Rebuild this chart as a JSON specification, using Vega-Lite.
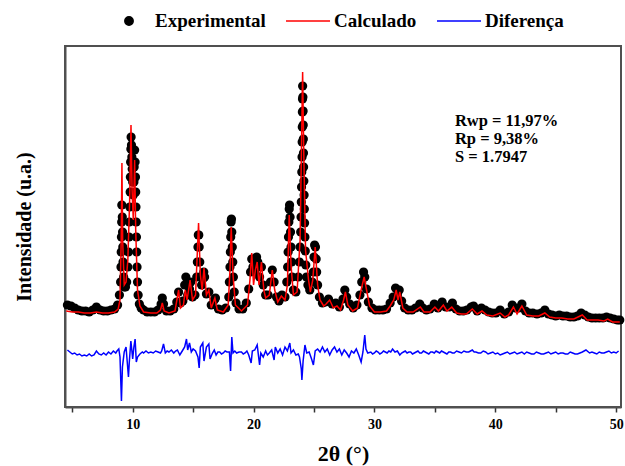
{
"$schema": "https://vega.github.io/schema/vega-lite/v6.json",
"width": 556, "height": 361,
"autosize": {"type": "none"},
"padding": {"left": 65, "top": 46, "right": 4, "bottom": 59},
"background": "white",
"config": {
  "view": {"stroke": "#505050", "strokeWidth": 2},
  "font": "Liberation Serif",
  "axis": {"labelFont": "Liberation Serif", "titleFont": "Liberation Serif", "labelFontWeight": "bold", "titleFontWeight": "bold", "labelColor": "black", "titleColor": "black", "grid": false, "domainColor": "#505050", "domainWidth": 2, "tickColor": "#333333", "tickWidth": 1.5}
},
"datasets": {
"obs": [
{"t":4.6,"v":102},{"t":4.9,"v":101},{"t":5.2,"v":99},{"t":5.5,"v":97},{"t":5.8,"v":96},{"t":6.1,"v":96},{"t":6.4,"v":95},{"t":6.7,"v":97},{"t":7.0,"v":100},{"t":7.3,"v":97},{"t":7.6,"v":96},{"t":7.9,"v":96},{"t":8.2,"v":97},{"t":8.5,"v":98},{"t":8.75,"v":102},{"t":8.9,"v":112},
{"t":9.0,"v":125},{"t":9.03,"v":140},{"t":9.05,"v":155},{"t":9.07,"v":170},{"t":9.09,"v":185},{"t":9.1,"v":202},{"t":9.14,"v":190},{"t":9.16,"v":175},{"t":9.18,"v":160},{"t":9.2,"v":145},{"t":9.25,"v":130},{"t":9.3,"v":120},{"t":9.4,"v":120},{"t":9.5,"v":125},
{"t":9.6,"v":140},{"t":9.65,"v":155},{"t":9.7,"v":170},{"t":9.73,"v":185},{"t":9.76,"v":200},{"t":9.79,"v":215},{"t":9.81,"v":230},{"t":9.83,"v":245},{"t":9.85,"v":258},{"t":9.87,"v":270},{"t":9.9,"v":262},{"t":9.93,"v":250},{"t":9.96,"v":238},{"t":10.0,"v":225},{"t":10.05,"v":212},{"t":10.1,"v":225},{"t":10.12,"v":240},{"t":10.16,"v":257},{"t":10.2,"v":245},{"t":10.23,"v":230},{"t":10.25,"v":215},{"t":10.27,"v":200},{"t":10.29,"v":185},{"t":10.31,"v":170},{"t":10.33,"v":155},{"t":10.36,"v":140},{"t":10.4,"v":125},{"t":10.45,"v":112},{"t":10.55,"v":103},{"t":10.7,"v":99},
{"t":10.9,"v":97},{"t":11.2,"v":95},{"t":11.5,"v":95},{"t":11.8,"v":95},{"t":12.1,"v":97},{"t":12.35,"v":103},{"t":12.45,"v":109},{"t":12.55,"v":103},{"t":12.8,"v":96},{"t":13.1,"v":96},{"t":13.4,"v":98},{"t":13.65,"v":105},{"t":13.8,"v":115},{"t":13.95,"v":104},{"t":14.15,"v":106},{"t":14.3,"v":122},{"t":14.4,"v":130},{"t":14.55,"v":112},{"t":14.7,"v":118},{"t":14.8,"v":125},{"t":14.95,"v":110},{"t":15.15,"v":112},{"t":15.3,"v":130},{"t":15.35,"v":145},{"t":15.4,"v":160},{"t":15.43,"v":172},{"t":15.47,"v":172},{"t":15.5,"v":160},{"t":15.55,"v":145},{"t":15.6,"v":130},{"t":15.7,"v":122},{"t":15.8,"v":128},{"t":15.88,"v":135},{"t":15.95,"v":130},{"t":16.1,"v":113},{"t":16.3,"v":115},{"t":16.5,"v":102},{"t":16.75,"v":107},{"t":16.85,"v":109},{"t":17.1,"v":98},{"t":17.4,"v":97},{"t":17.7,"v":99},
{"t":17.95,"v":110},{"t":18.0,"v":125},{"t":18.05,"v":140},{"t":18.08,"v":155},{"t":18.11,"v":170},{"t":18.14,"v":185},{"t":18.17,"v":188},{"t":18.2,"v":175},{"t":18.24,"v":160},{"t":18.28,"v":145},{"t":18.33,"v":130},{"t":18.4,"v":115},{"t":18.55,"v":104},{"t":18.8,"v":98},{"t":19.1,"v":98},{"t":19.4,"v":104},{"t":19.6,"v":118},{"t":19.75,"v":135},{"t":19.85,"v":148},{"t":19.95,"v":140},{"t":20.1,"v":135},{"t":20.25,"v":150},{"t":20.35,"v":145},{"t":20.5,"v":130},{"t":20.65,"v":140},{"t":20.8,"v":122},{"t":21.0,"v":112},{"t":21.2,"v":112},{"t":21.4,"v":125},{"t":21.55,"v":137},{"t":21.7,"v":125},{"t":21.9,"v":110},{"t":22.1,"v":106},{"t":22.35,"v":112},{"t":22.6,"v":110},
{"t":22.75,"v":125},{"t":22.82,"v":140},{"t":22.86,"v":155},{"t":22.89,"v":170},{"t":22.92,"v":185},{"t":22.95,"v":198},{"t":22.98,"v":202},{"t":23.02,"v":190},{"t":23.06,"v":175},{"t":23.1,"v":160},{"t":23.15,"v":145},{"t":23.2,"v":130},{"t":23.3,"v":117},{"t":23.5,"v":115},{"t":23.7,"v":130},{"t":23.8,"v":145},{"t":23.85,"v":160},{"t":23.9,"v":175},{"t":23.93,"v":190},{"t":23.95,"v":205},{"t":23.97,"v":220},{"t":23.99,"v":235},{"t":24.01,"v":250},{"t":24.02,"v":265},{"t":24.03,"v":280},{"t":24.04,"v":295},{"t":24.05,"v":308},{"t":24.06,"v":321},{"t":24.08,"v":310},{"t":24.1,"v":296},{"t":24.11,"v":282},{"t":24.12,"v":268},{"t":24.13,"v":254},{"t":24.14,"v":240},{"t":24.16,"v":226},{"t":24.18,"v":212},{"t":24.2,"v":198},{"t":24.22,"v":184},{"t":24.25,"v":170},{"t":24.28,"v":156},{"t":24.32,"v":142},{"t":24.38,"v":130},{"t":24.5,"v":122},{"t":24.65,"v":117},{"t":24.85,"v":125},{"t":24.95,"v":135},{"t":25.0,"v":150},{"t":25.05,"v":162},{"t":25.12,"v":160},{"t":25.18,"v":148},{"t":25.22,"v":135},{"t":25.3,"v":122},{"t":25.45,"v":110},{"t":25.7,"v":104},{"t":25.95,"v":105},{"t":26.2,"v":108},{"t":26.5,"v":103},{"t":26.8,"v":104},{"t":27.1,"v":100},{"t":27.4,"v":108},{"t":27.55,"v":117},{"t":27.7,"v":110},{"t":27.95,"v":103},{"t":28.25,"v":99},{"t":28.55,"v":102},{"t":28.8,"v":112},{"t":28.95,"v":125},{"t":29.1,"v":135},{"t":29.2,"v":130},{"t":29.35,"v":118},{"t":29.5,"v":105},{"t":29.8,"v":99},
{"t":30.1,"v":97},{"t":30.4,"v":97},{"t":30.7,"v":97},{"t":31.0,"v":98},{"t":31.3,"v":104},{"t":31.55,"v":110},{"t":31.75,"v":119},{"t":31.9,"v":112},{"t":32.05,"v":117},{"t":32.25,"v":106},{"t":32.5,"v":99},{"t":32.8,"v":97},{"t":33.1,"v":97},{"t":33.4,"v":99},{"t":33.75,"v":103},{"t":34.0,"v":99},{"t":34.3,"v":97},{"t":34.6,"v":98},{"t":34.95,"v":103},{"t":35.25,"v":99},{"t":35.6,"v":105},{"t":35.9,"v":100},{"t":36.2,"v":100},{"t":36.45,"v":104},{"t":36.75,"v":98},{"t":37.05,"v":96},{"t":37.35,"v":96},{"t":37.65,"v":97},{"t":38.0,"v":100},{"t":38.2,"v":101},{"t":38.5,"v":96},{"t":38.85,"v":99},{"t":39.15,"v":97},{"t":39.45,"v":95},{"t":39.75,"v":94},{"t":40.05,"v":94},{"t":40.4,"v":97},{"t":40.75,"v":93},{"t":41.1,"v":95},{"t":41.4,"v":102},{"t":41.65,"v":99},{"t":41.95,"v":99},{"t":42.2,"v":103},{"t":42.5,"v":96},{"t":42.8,"v":94},{"t":43.1,"v":94},{"t":43.45,"v":93},{"t":43.8,"v":94},{"t":44.1,"v":97},{"t":44.4,"v":93},{"t":44.7,"v":92},{"t":45.0,"v":91},{"t":45.3,"v":92},{"t":45.6,"v":91},{"t":45.9,"v":91},{"t":46.2,"v":90},{"t":46.5,"v":90},{"t":46.8,"v":91},{"t":47.1,"v":94},{"t":47.4,"v":92},{"t":47.7,"v":90},{"t":48.0,"v":89},{"t":48.3,"v":89},{"t":48.6,"v":89},{"t":48.9,"v":89},{"t":49.2,"v":90},{"t":49.5,"v":89},{"t":49.8,"v":88},{"t":50.1,"v":87},{"t":50.3,"v":87}
],
"calc": [
{"t":4.5,"v":96},{"t":5.0,"v":95},{"t":5.5,"v":95},{"t":6.0,"v":94},{"t":6.5,"v":94},{"t":7.0,"v":95},{"t":7.5,"v":94},{"t":8.0,"v":94},{"t":8.5,"v":95},{"t":8.8,"v":98},{"t":8.95,"v":107},{"t":9.05,"v":167},{"t":9.11,"v":244},{"t":9.17,"v":167},{"t":9.3,"v":122},{"t":9.45,"v":125},{"t":9.6,"v":147},{"t":9.75,"v":207},{"t":9.86,"v":282},{"t":9.95,"v":217},{"t":10.05,"v":187},{"t":10.16,"v":247},{"t":10.25,"v":177},{"t":10.4,"v":117},{"t":10.6,"v":101},{"t":10.9,"v":95},{"t":11.5,"v":94},{"t":12.0,"v":94},{"t":12.3,"v":97},{"t":12.45,"v":104},{"t":12.6,"v":96},{"t":13.0,"v":94},{"t":13.5,"v":96},{"t":13.8,"v":117},{"t":13.95,"v":99},{"t":14.2,"v":102},{"t":14.35,"v":117},{"t":14.5,"v":107},{"t":14.75,"v":127},{"t":14.95,"v":107},{"t":15.2,"v":112},{"t":15.45,"v":184},{"t":15.6,"v":132},{"t":15.75,"v":117},{"t":15.9,"v":139},{"t":16.1,"v":112},{"t":16.3,"v":117},{"t":16.5,"v":99},{"t":16.8,"v":109},{"t":17.0,"v":97},{"t":17.5,"v":95},{"t":17.9,"v":102},{"t":18.05,"v":137},{"t":18.15,"v":180},{"t":18.3,"v":132},{"t":18.5,"v":102},{"t":19.0,"v":96},{"t":19.5,"v":102},{"t":19.7,"v":127},{"t":19.85,"v":154},{"t":20.0,"v":122},{"t":20.15,"v":137},{"t":20.3,"v":145},{"t":20.45,"v":122},{"t":20.65,"v":145},{"t":20.85,"v":117},{"t":21.0,"v":109},{"t":21.3,"v":112},{"t":21.55,"v":137},{"t":21.75,"v":117},{"t":22.0,"v":105},{"t":22.3,"v":111},{"t":22.6,"v":107},{"t":22.8,"v":122},{"t":22.95,"v":192},{"t":23.1,"v":142},{"t":23.3,"v":112},{"t":23.6,"v":115},{"t":23.85,"v":167},{"t":24.0,"v":287},{"t":24.06,"v":335},{"t":24.15,"v":257},{"t":24.3,"v":157},{"t":24.55,"v":127},{"t":24.7,"v":115},{"t":24.9,"v":127},{"t":25.1,"v":160},{"t":25.3,"v":122},{"t":25.5,"v":107},{"t":25.8,"v":101},{"t":26.0,"v":103},{"t":26.3,"v":107},{"t":26.6,"v":99},{"t":26.9,"v":101},{"t":27.2,"v":97},{"t":27.45,"v":107},{"t":27.6,"v":115},{"t":27.8,"v":102},{"t":28.2,"v":96},{"t":28.6,"v":99},{"t":28.9,"v":117},{"t":29.15,"v":130},{"t":29.35,"v":117},{"t":29.6,"v":101},{"t":30.0,"v":95},{"t":30.5,"v":95},{"t":31.0,"v":96},{"t":31.3,"v":101},{"t":31.6,"v":107},{"t":31.8,"v":117},{"t":31.95,"v":107},{"t":32.1,"v":115},{"t":32.35,"v":99},{"t":32.7,"v":95},{"t":33.2,"v":95},{"t":33.8,"v":100},{"t":34.1,"v":95},{"t":34.6,"v":95},{"t":35.0,"v":100},{"t":35.3,"v":96},{"t":35.7,"v":102},{"t":36.0,"v":96},{"t":36.4,"v":100},{"t":36.8,"v":94},{"t":37.2,"v":93},{"t":37.6,"v":93},{"t":38.1,"v":98},{"t":38.5,"v":93},{"t":38.9,"v":96},{"t":39.3,"v":92},{"t":39.8,"v":91},{"t":40.4,"v":94},{"t":40.8,"v":90},{"t":41.1,"v":92},{"t":41.5,"v":100},{"t":41.8,"v":93},{"t":42.2,"v":101},{"t":42.6,"v":92},{"t":43.1,"v":91},{"t":43.6,"v":91},{"t":44.1,"v":94},{"t":44.5,"v":90},{"t":45.0,"v":89},{"t":45.5,"v":89},{"t":46.0,"v":88},{"t":46.5,"v":88},{"t":47.2,"v":92},{"t":47.6,"v":87},{"t":48.0,"v":87},{"t":48.5,"v":87},{"t":49.0,"v":86},{"t":49.3,"v":88},{"t":49.7,"v":85},{"t":50.3,"v":85}
],
"diff": [
{"t":4.6,"v":57},{"t":4.8,"v":55},{"t":5.0,"v":53},{"t":5.2,"v":54},{"t":5.4,"v":52},{"t":5.6,"v":53},{"t":5.8,"v":51},{"t":6.0,"v":52},{"t":6.2,"v":51},{"t":6.4,"v":53},{"t":6.6,"v":51},{"t":6.8,"v":52},{"t":7.0,"v":56},{"t":7.2,"v":53},{"t":7.4,"v":52},{"t":7.6,"v":54},{"t":7.8,"v":52},{"t":8.0,"v":55},{"t":8.2,"v":53},{"t":8.4,"v":56},{"t":8.6,"v":54},{"t":8.7,"v":56},{"t":8.85,"v":58},{"t":8.95,"v":50},{"t":9.07,"v":6},{"t":9.15,"v":40},{"t":9.3,"v":55},{"t":9.45,"v":60},{"t":9.55,"v":45},{"t":9.65,"v":30},{"t":9.72,"v":45},{"t":9.85,"v":66},{"t":9.92,"v":58},{"t":10.0,"v":48},{"t":10.1,"v":60},{"t":10.2,"v":68},{"t":10.3,"v":45},{"t":10.4,"v":50},{"t":10.6,"v":53},{"t":10.8,"v":55},{"t":10.9,"v":54},{"t":11.1,"v":56},{"t":11.3,"v":54},{"t":11.5,"v":55},{"t":11.7,"v":54},{"t":11.9,"v":56},{"t":12.1,"v":55},{"t":12.3,"v":54},{"t":12.4,"v":56},{"t":12.55,"v":63},{"t":12.7,"v":54},{"t":12.85,"v":56},{"t":13.0,"v":55},{"t":13.2,"v":57},{"t":13.4,"v":54},{"t":13.55,"v":56},{"t":13.7,"v":57},{"t":13.9,"v":52},{"t":14.1,"v":56},{"t":14.3,"v":60},{"t":14.45,"v":68},{"t":14.55,"v":57},{"t":14.7,"v":64},{"t":14.85,"v":55},{"t":15.0,"v":58},{"t":15.2,"v":56},{"t":15.4,"v":50},{"t":15.5,"v":39},{"t":15.6,"v":60},{"t":15.8,"v":64},{"t":15.9,"v":46},{"t":16.1,"v":60},{"t":16.3,"v":63},{"t":16.4,"v":48},{"t":16.6,"v":54},{"t":16.75,"v":57},{"t":16.9,"v":52},{"t":17.05,"v":55},{"t":17.2,"v":55},{"t":17.35,"v":53},{"t":17.5,"v":54},{"t":17.65,"v":56},{"t":17.8,"v":55},{"t":18.0,"v":55},{"t":18.1,"v":36},{"t":18.2,"v":70},{"t":18.3,"v":54},{"t":18.45,"v":56},{"t":18.6,"v":54},{"t":18.8,"v":55},{"t":19.0,"v":55},{"t":19.15,"v":53},{"t":19.3,"v":54},{"t":19.45,"v":56},{"t":19.6,"v":52},{"t":19.8,"v":44},{"t":19.9,"v":56},{"t":20.1,"v":57},{"t":20.3,"v":62},{"t":20.5,"v":42},{"t":20.6,"v":54},{"t":20.8,"v":50},{"t":21.0,"v":56},{"t":21.15,"v":52},{"t":21.3,"v":54},{"t":21.5,"v":57},{"t":21.7,"v":47},{"t":21.8,"v":60},{"t":22.0,"v":54},{"t":22.2,"v":58},{"t":22.4,"v":52},{"t":22.6,"v":60},{"t":22.8,"v":56},{"t":23.0,"v":64},{"t":23.1,"v":54},{"t":23.3,"v":57},{"t":23.5,"v":52},{"t":23.7,"v":53},{"t":23.8,"v":50},{"t":23.95,"v":38},{"t":24.0,"v":27},{"t":24.1,"v":46},{"t":24.25,"v":62},{"t":24.4,"v":54},{"t":24.6,"v":55},{"t":24.8,"v":48},{"t":24.95,"v":42},{"t":25.1,"v":56},{"t":25.3,"v":58},{"t":25.5,"v":55},{"t":25.7,"v":60},{"t":25.9,"v":55},{"t":26.1,"v":58},{"t":26.3,"v":52},{"t":26.5,"v":57},{"t":26.7,"v":60},{"t":26.9,"v":55},{"t":27.1,"v":58},{"t":27.3,"v":52},{"t":27.5,"v":57},{"t":27.7,"v":54},{"t":27.9,"v":50},{"t":28.1,"v":56},{"t":28.3,"v":54},{"t":28.5,"v":58},{"t":28.7,"v":52},{"t":28.9,"v":45},{"t":29.05,"v":55},{"t":29.2,"v":72},{"t":29.3,"v":58},{"t":29.45,"v":54},{"t":29.7,"v":55},{"t":29.85,"v":53},{"t":30.0,"v":54},{"t":30.15,"v":56},{"t":30.3,"v":55},{"t":30.45,"v":53},{"t":30.6,"v":54},{"t":30.75,"v":56},{"t":30.9,"v":55},{"t":31.05,"v":54},{"t":31.2,"v":56},{"t":31.35,"v":55},{"t":31.5,"v":58},{"t":31.7,"v":55},{"t":31.9,"v":56},{"t":32.1,"v":52},{"t":32.25,"v":54},{"t":32.4,"v":55},{"t":32.55,"v":56},{"t":32.7,"v":54},{"t":32.85,"v":55},{"t":33.0,"v":55},{"t":33.15,"v":53},{"t":33.3,"v":54},{"t":33.45,"v":55},{"t":33.6,"v":56},{"t":33.75,"v":54},{"t":33.9,"v":54},{"t":34.05,"v":56},{"t":34.2,"v":55},{"t":34.35,"v":54},{"t":34.5,"v":53},{"t":34.65,"v":55},{"t":34.8,"v":55},{"t":34.95,"v":54},{"t":35.1,"v":56},{"t":35.25,"v":55},{"t":35.4,"v":54},{"t":35.55,"v":56},{"t":35.7,"v":55},{"t":35.85,"v":54},{"t":36.0,"v":53},{"t":36.15,"v":55},{"t":36.3,"v":55},{"t":36.45,"v":54},{"t":36.6,"v":54},{"t":36.8,"v":56},{"t":37.0,"v":55},{"t":37.2,"v":54},{"t":37.4,"v":56},{"t":37.6,"v":55},{"t":37.8,"v":55},{"t":37.95,"v":56},{"t":38.1,"v":57},{"t":38.25,"v":55},{"t":38.4,"v":55},{"t":38.6,"v":54},{"t":38.8,"v":54},{"t":39.0,"v":56},{"t":39.2,"v":55},{"t":39.4,"v":53},{"t":39.6,"v":54},{"t":39.8,"v":55},{"t":40.0,"v":53},{"t":40.2,"v":54},{"t":40.4,"v":52},{"t":40.6,"v":53},{"t":40.8,"v":54},{"t":41.0,"v":55},{"t":41.2,"v":53},{"t":41.4,"v":54},{"t":41.6,"v":55},{"t":41.8,"v":53},{"t":42.0,"v":54},{"t":42.2,"v":55},{"t":42.4,"v":53},{"t":42.6,"v":55},{"t":42.8,"v":54},{"t":43.0,"v":53},{"t":43.2,"v":53},{"t":43.4,"v":55},{"t":43.6,"v":54},{"t":43.8,"v":53},{"t":44.0,"v":53},{"t":44.2,"v":54},{"t":44.4,"v":55},{"t":44.6,"v":53},{"t":44.8,"v":54},{"t":45.0,"v":55},{"t":45.2,"v":53},{"t":45.4,"v":54},{"t":45.6,"v":54},{"t":45.8,"v":53},{"t":46.0,"v":53},{"t":46.2,"v":55},{"t":46.4,"v":54},{"t":46.6,"v":53},{"t":46.8,"v":53},{"t":47.0,"v":54},{"t":47.2,"v":55},{"t":47.5,"v":57},{"t":47.8,"v":54},{"t":48.0,"v":55},{"t":48.2,"v":54},{"t":48.4,"v":53},{"t":48.6,"v":55},{"t":48.8,"v":54},{"t":49.0,"v":54},{"t":49.2,"v":55},{"t":49.4,"v":56},{"t":49.6,"v":54},{"t":49.8,"v":55},{"t":50.0,"v":54},{"t":50.2,"v":56}
],
"notes": [
{"t":36.66,"v":286,"label":"Rwp = 11,97%"},
{"t":36.66,"v":268,"label":"Rp = 9,38%"},
{"t":36.66,"v":250,"label":"S = 1.7947"}
]
},
"encoding": {
  "x": {"field": "t", "type": "quantitative", "scale": {"domain": [4.4, 50.4], "nice": false, "zero": false},
        "axis": {"title": "2θ (°)", "values": [5,10,15,20,25,30,35,40,45,50], "labelExpr": "datum.value % 10 === 0 ? datum.label : ''", "labelFontSize": 14, "titleFontSize": 22, "tickSize": 5, "labelPadding": 5, "titlePadding": 12}},
  "y": {"field": "v", "type": "quantitative", "scale": {"domain": [0, 361], "nice": false, "zero": false},
        "axis": {"title": "Intensidade (u.a.)", "labels": false, "ticks": false, "titleFontSize": 20, "titlePadding": 31}}
},
"layer": [
  {"data": {"name": "diff"}, "mark": {"type": "line", "strokeWidth": 1.5},
   "encoding": {"color": {"datum": "Diferença", "type": "nominal",
     "scale": {"domain": ["Experimental", "Calculado", "Diferença"], "range": ["black", "red", "blue"]},
     "legend": {"title": null, "orient": "none", "legendX": 41, "legendY": -48, "direction": "horizontal",
       "symbolSize": 1936, "symbolStrokeWidth": 1.5, "labelFont": "Liberation Serif", "labelFontWeight": "bold", "labelFontSize": 19, "labelColor": "black", "labelOffset": 3, "columnPadding": 17,
       "encode": {"symbols": {"update": {
         "shape": {"signal": "datum.value === 'Experimental' ? 'circle' : 'stroke'"},
         "size": {"signal": "datum.value === 'Experimental' ? 70 : 1936"},
         "fill": {"signal": "datum.value === 'Experimental' ? 'black' : 'transparent'"},
         "stroke": {"signal": "datum.value === 'Experimental' ? 'transparent' : (datum.value === 'Calculado' ? 'red' : 'blue')"},
         "strokeWidth": {"value": 1.5}, "opacity": {"value": 1}}}}}}}},
  {"data": {"name": "obs"}, "mark": {"type": "point", "filled": true, "size": 85, "opacity": 1},
   "encoding": {"color": {"datum": "Experimental", "type": "nominal"}}},
  {"data": {"name": "calc"}, "mark": {"type": "line", "strokeWidth": 1.5},
   "encoding": {"color": {"datum": "Calculado", "type": "nominal"}}},
  {"data": {"name": "notes"}, "mark": {"type": "text", "align": "left", "baseline": "middle", "font": "Liberation Serif", "fontWeight": "bold", "fontSize": 16.5, "color": "black"},
   "encoding": {"text": {"field": "label"}}}
]
}
